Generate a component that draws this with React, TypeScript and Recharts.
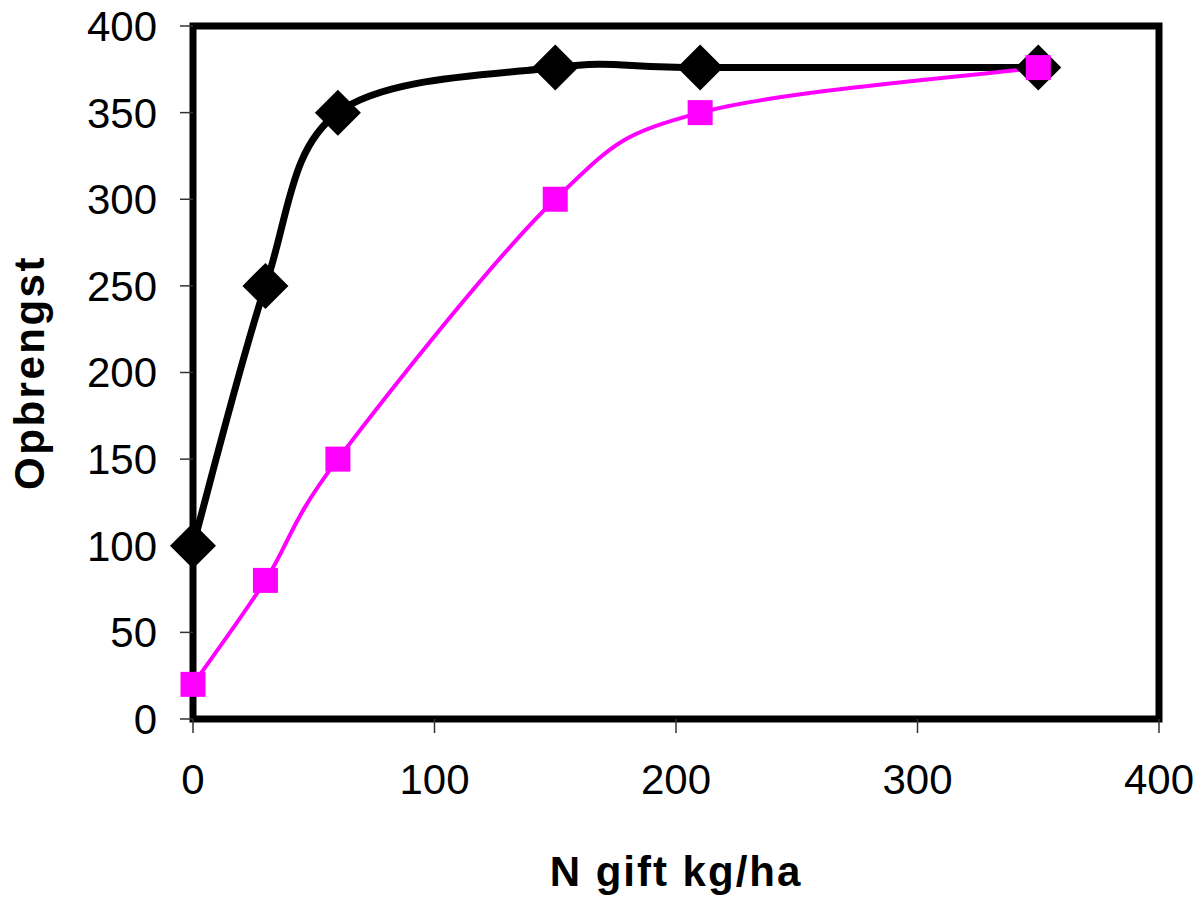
import React from "react";
import { LineChart, Line, XAxis, YAxis, ReferenceArea, Label } from "recharts";

const nGift = [0, 30, 60, 150, 210, 350];
const yieldBlack = [100, 250, 350, 376, 376, 376];
const yieldPink = [20, 80, 150, 300, 350, 376];
const xTicks = [0, 100, 200, 300, 400];
const yTicks = [0, 50, 100, 150, 200, 250, 300, 350, 400];

const data = nGift.map((n, i) => ({ n, black: yieldBlack[i], pink: yieldPink[i] }));

const FONT = "'Liberation Sans', Arial, sans-serif";

// Excel-like smoothed line: Catmull-Rom through the points, drawn as beziers
function smoothCurve(context: any) {
  let pts: [number, number][] = [];
  return {
    areaStart() {},
    areaEnd() {},
    lineStart() {
      pts = [];
    },
    point(x: number, y: number) {
      pts.push([+x, +y]);
    },
    lineEnd() {
      if (!pts.length) return;
      context.moveTo(pts[0][0], pts[0][1]);
      for (let i = 0; i < pts.length - 1; i++) {
        const p0 = pts[Math.max(i - 1, 0)];
        const p1 = pts[i];
        const p2 = pts[i + 1];
        const p3 = pts[Math.min(i + 2, pts.length - 1)];
        context.bezierCurveTo(
          p1[0] + (p2[0] - p0[0]) / 6,
          p1[1] + (p2[1] - p0[1]) / 6,
          p2[0] - (p3[0] - p1[0]) / 6,
          p2[1] - (p3[1] - p1[1]) / 6,
          p2[0],
          p2[1]
        );
      }
    },
  };
}

const Diamond = (props: any) => {
  const { cx, cy, index } = props;
  if (cx == null || cy == null) return null;
  const r = 23;
  return (
    <polygon
      key={`d-${index}`}
      points={`${cx},${cy - r} ${cx + r},${cy} ${cx},${cy + r} ${cx - r},${cy}`}
      fill="#000"
    />
  );
};

const Square = (props: any) => {
  const { cx, cy, index } = props;
  if (cx == null || cy == null) return null;
  const s = 25;
  return <rect key={`s-${index}`} x={cx - s / 2} y={cy - s / 2} width={s} height={s} fill="#ff00ff" />;
};

export default function App() {
  const tickStyle = { fontSize: 42, fill: "#000", fontFamily: FONT };
  const titleStyle = {
    fontSize: 42,
    fontWeight: 700,
    fill: "#000",
    fontFamily: FONT,
    letterSpacing: 2,
    textAnchor: "middle" as const,
  };

  return (
    <div style={{ position: "absolute", left: 0, top: 0, width: 1201, height: 901, background: "#fff", fontFamily: FONT }}>
      <LineChart width={1201} height={901} data={data} margin={{ top: 26, right: 42, left: 33, bottom: 122 }}>
        <XAxis
          dataKey="n"
          type="number"
          domain={[0, 400]}
          ticks={xTicks}
          interval={0}
          axisLine={false}
          tickLine={{ stroke: "#333", strokeWidth: 1.5 }}
          tickSize={14}
          tickMargin={31}
          tick={tickStyle}
          height={60}
        >
          <Label value="N gift kg/ha" position="bottom" offset={77} style={titleStyle} />
        </XAxis>
        <YAxis
          type="number"
          domain={[0, 400]}
          ticks={yTicks}
          interval={0}
          axisLine={false}
          tickLine={{ stroke: "#333", strokeWidth: 1.5 }}
          tickSize={13}
          tickMargin={23}
          tick={tickStyle}
          width={160}
        >
          <Label value="Opbrengst" angle={-90} position="insideLeft" offset={-4} style={{ ...titleStyle, letterSpacing: 2.5 }} />
        </YAxis>
        <ReferenceArea x1={0} x2={400} y1={0} y2={400} fill="none" fillOpacity={0} stroke="#000" strokeWidth={7} />
        <Line
          dataKey="black"
          type={smoothCurve as any}
          stroke="#000"
          strokeWidth={7}
          dot={Diamond}
          activeDot={false}
          isAnimationActive={false}
        />
        <Line
          dataKey="pink"
          type={smoothCurve as any}
          stroke="#ff00ff"
          strokeWidth={4}
          dot={Square}
          activeDot={false}
          isAnimationActive={false}
        />
      </LineChart>
    </div>
  );
}
